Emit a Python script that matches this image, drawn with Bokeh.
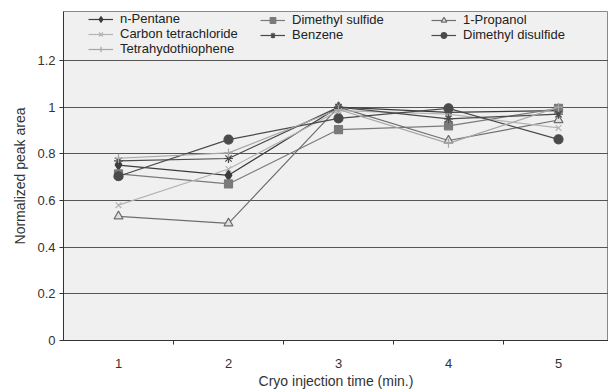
from bokeh.plotting import figure
from bokeh.models import FixedTicker, Legend, LegendItem, Range1d
from bokeh.embed import file_html
from bokeh.resources import INLINE

times = [1, 2, 3, 4, 5]
n_pentane = [0.752, 0.708, 1.0, 0.978, 0.985]
dimethyl_sulfide = [0.714, 0.671, 0.904, 0.920, 0.995]
propanol = [0.532, 0.502, 1.0, 0.857, 0.945]
carbon_tet = [0.580, 0.735, 0.985, 0.970, 0.911]
benzene = [0.770, 0.780, 1.0, 0.950, 0.970]
dimethyl_disulfide = [0.704, 0.861, 0.952, 0.995, 0.862]
tetrahydrothiophene = [0.781, 0.804, 0.990, 0.845, 1.0]

y_ticks = [0, 0.2, 0.4, 0.6, 0.8, 1.0, 1.2]
y_labels = ["0", "0.2", "0.4", "0.6", "0.8", "1", "1.2"]
x_labels = ["1", "2", "3", "4", "5"]
x_title = "Cryo injection time (min.)"
y_title = "Normalized peak area"

FONT = "Liberation Sans"
W, H = 608, 391
LEFT, TOP, FRAME_H = 63, 11, 329
Y_MAX = 1.41

p = figure(width=W, height=H, output_backend="svg", toolbar_location=None,
           x_range=Range1d(0.5, 0.5 + (W - LEFT) / 110), y_range=Range1d(0, Y_MAX),
           min_border_left=LEFT, min_border_right=0, min_border_top=TOP,
           min_border_bottom=H - TOP - FRAME_H)
p.background_fill_color = "#f0f0f0"
p.border_fill_color = "white"
p.outline_line_color = "#888888"
p.outline_line_width = 1

# axes
p.xaxis.ticker = FixedTicker(ticks=times, minor_ticks=[1.5, 2.5, 3.5, 4.5, 5.5])
p.xaxis.major_label_overrides = {t: l for t, l in zip(times, x_labels)}
p.xaxis.major_tick_out = 0
p.xaxis.major_tick_in = 0
p.xaxis.minor_tick_out = 4
p.xaxis.minor_tick_in = 0
p.xaxis.minor_tick_line_color = "#333333"
p.xaxis.axis_line_color = "#333333"
p.xaxis.major_label_standoff = 14
p.xaxis.axis_label = x_title
p.xaxis.axis_label_standoff = 2

p.yaxis.ticker = FixedTicker(ticks=y_ticks, minor_ticks=[])
p.yaxis.major_label_overrides = {t: l for t, l in zip(y_ticks, y_labels)}
p.yaxis.major_tick_out = 4
p.yaxis.major_tick_in = 0
p.yaxis.major_tick_line_color = "#333333"
p.yaxis.axis_line_color = "#333333"
p.yaxis.major_label_standoff = 4
p.yaxis.axis_label = y_title
p.yaxis.axis_label_standoff = 6

for ax in (p.xaxis, p.yaxis):
    ax.major_label_text_font = FONT
    ax.major_label_text_font_size = "13px"
    ax.major_label_text_color = "#333333"
    ax.axis_label_text_font = FONT
    ax.axis_label_text_font_size = "14px"
    ax.axis_label_text_font_style = "normal"
    ax.axis_label_text_color = "#333333"

p.xgrid.visible = False
p.ygrid.ticker = FixedTicker(ticks=y_ticks[1:])
p.ygrid.grid_line_color = "#555555"
p.ygrid.grid_line_width = 1

series = [
    ("n-Pentane", n_pentane, "diamond", "#3c3c3c", "#3c3c3c", 10),
    ("Dimethyl sulfide", dimethyl_sulfide, "square", "#7a7a7a", "#7a7a7a", 8),
    ("1-Propanol", propanol, "triangle", "#6e6e6e", "#e0e0e0", 9),
    ("Carbon tetrachloride", carbon_tet, "x", "#b4b4b4", "#b4b4b4", 8),
    ("Benzene", benzene, "asterisk", "#4a4a4a", "#4a4a4a", 9),
    ("Dimethyl disulfide", dimethyl_disulfide, "circle", "#4a4a4a", "#4a4a4a", 9),
    ("Tetrahydothiophene", tetrahydrothiophene, "cross", "#a6a6a6", "#a6a6a6", 9),
]

items = {}
for name, vals, marker, lc, fc, size in series:
    r1 = p.line(times, vals, line_color=lc, line_width=1.2)
    r2 = p.scatter(times, vals, marker=marker, size=size, line_color=lc,
                   fill_color=fc, line_width=1.2)
    items[name] = LegendItem(label=name, renderers=[r1, r2])

columns = [
    (["n-Pentane", "Carbon tetrachloride", "Tetrahydothiophene"], 25),
    (["Dimethyl sulfide", "Benzene"], 197),
    (["1-Propanol", "Dimethyl disulfide"], 368),
]
for names, xoff in columns:
    h = 14 * len(names)
    leg = Legend(items=[items[n] for n in names], location=(xoff, FRAME_H - 3 - h),
                 orientation="vertical", glyph_width=25, glyph_height=14,
                 label_height=14, label_standoff=7, spacing=0, padding=0, margin=0,
                 label_text_font=FONT, label_text_font_size="13px",
                 label_text_color="#222222", background_fill_alpha=0,
                 border_line_alpha=0)
    p.add_layout(leg, "center")

open("out.html", "w").write(file_html(p, INLINE))
